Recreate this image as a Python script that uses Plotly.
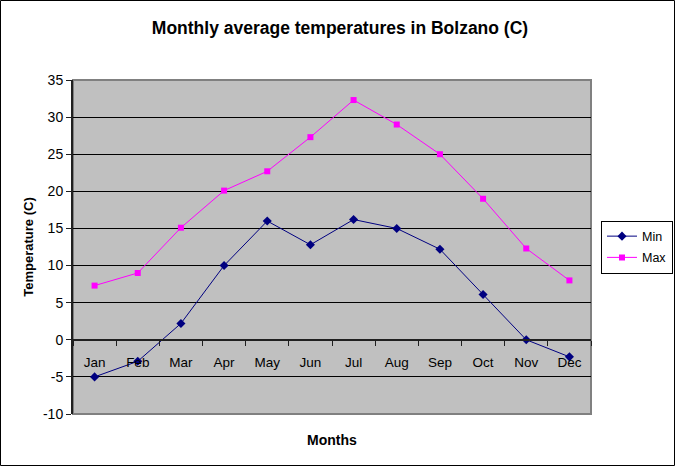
import plotly.graph_objects as go

months = ["Jan", "Feb", "Mar", "Apr", "May", "Jun", "Jul", "Aug", "Sep", "Oct", "Nov", "Dec"]
min_temps = [-5.0, -2.9, 2.2, 10.0, 16.0, 12.8, 16.2, 15.0, 12.2, 6.1, 0.0, -2.3]
max_temps = [7.3, 9.0, 15.1, 20.1, 22.7, 27.3, 32.3, 29.0, 25.0, 19.0, 12.3, 8.0]
y_ticks = list(range(-10, 36, 5))
y_tick_labels = [str(v) for v in y_ticks]

W, H = 675, 466
L, R, T, B = 73, 84, 80, 52
pw, ph = W - L - R, H - T - B

def px_x(px):
    return (px - L) / pw

def px_y(py):
    return (H - B - py) / ph

fig = go.Figure()
fig.add_trace(go.Scatter(
    x=months, y=min_temps, name="Min", mode="lines+markers", legendgroup="a",
    line=dict(color="#000080", width=1),
    marker=dict(symbol="diamond", size=7, color="#000080"),
))
fig.add_trace(go.Scatter(
    x=months, y=max_temps, name="Max", mode="lines+markers", legendgroup="b",
    line=dict(color="#FF00FF", width=1),
    marker=dict(symbol="square", size=6, color="#FF00FF"),
))

font = "Arial, Liberation Sans, sans-serif"
fig.update_layout(
    width=W, height=H,
    margin=dict(l=L, r=R, t=T, b=B, autoexpand=False),
    paper_bgcolor="white",
    plot_bgcolor="#C0C0C0",
    font=dict(family=font, size=12, color="black"),
    title=dict(text="<b>Monthly average temperatures in Bolzano (C)</b>",
               x=px_x(340), xref="paper", xanchor="center",
               y=1 - 28 / H, yref="container", yanchor="middle",
               font=dict(size=17.5, family=font, color="black")),
    showlegend=True,
    legend=dict(x=px_x(601), y=px_y(247), xanchor="left", yanchor="middle",
                bordercolor="black", borderwidth=1, bgcolor="white",
                font=dict(size=12.5, family=font), traceorder="grouped",
                tracegroupgap=2, itemwidth=30),
    xaxis=dict(type="category", range=[-0.5, 11.5], anchor="free",
               position=(0 - y_ticks[0]) / (y_ticks[-1] - y_ticks[0]),
               showline=True, linecolor="#202020", linewidth=2,
               ticks="outside", tickson="boundaries", ticklen=5,
               tickcolor="#202020", showgrid=False, zeroline=False,
               ticklabelstandoff=10,
               tickfont=dict(size=13.5, family=font)),
    yaxis=dict(range=[y_ticks[0], y_ticks[-1]], tickvals=y_ticks,
               ticktext=y_tick_labels,
               showline=True, linecolor="#202020", linewidth=2,
               ticks="outside", ticklen=5, tickcolor="#202020",
               showgrid=True, gridcolor="black", gridwidth=1,
               zeroline=False,
               title=dict(text="<b>Temperature (C)</b>", standoff=6,
                          font=dict(size=13, family=font)),
               tickfont=dict(size=14, family=font)),
)

# plot area frame (gray)
fig.add_shape(type="rect", xref="paper", yref="paper", x0=0, x1=1, y0=0, y1=1,
              line=dict(color="#808080", width=2), layer="below")
# outer chart border
fig.add_shape(type="rect", xref="paper", yref="paper",
              x0=px_x(0.5), x1=px_x(674.5), y0=px_y(465.5), y1=px_y(0.5),
              line=dict(color="black", width=1))
# x axis title
fig.add_annotation(text="<b>Months</b>", xref="paper", yref="paper",
                   x=px_x(332), y=px_y(440), showarrow=False,
                   xanchor="center", yanchor="middle",
                   font=dict(size=14, family=font))

fig.write_html("out.html", config={"displayModeBar": False},
               post_script="document.body.style.margin='0';document.body.style.overflow='hidden';")
